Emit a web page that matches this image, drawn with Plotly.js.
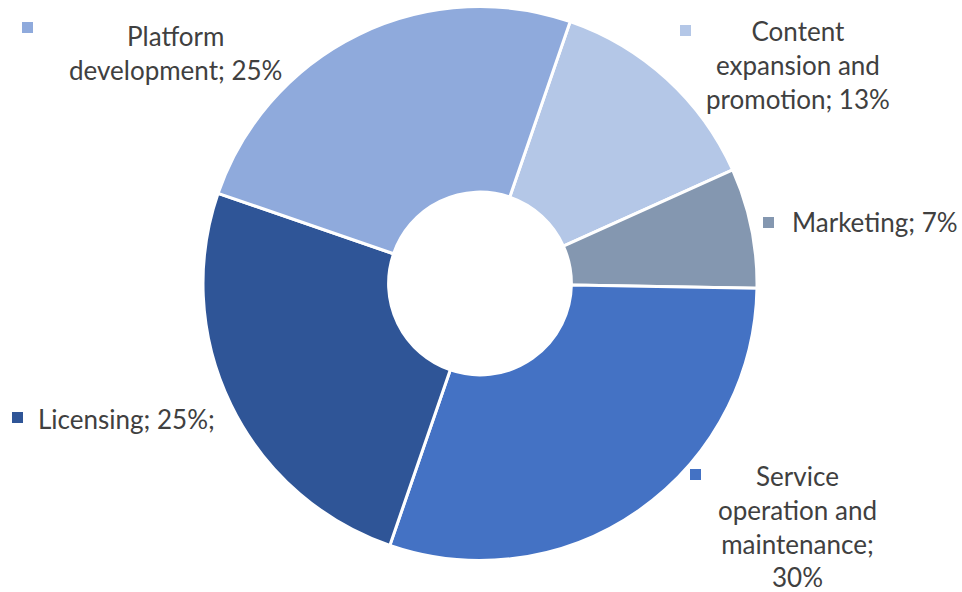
<!DOCTYPE html>
<html>
<head>
<meta charset="utf-8">
<script src="https://cdn.plot.ly/plotly-3.0.1.min.js"></script>
<style>html,body{margin:0;padding:0;background:#fff;}#chart{width:962px;height:592px;}</style>
</head>
<body>
<div id="chart"></div>
<script>
// Data (clockwise order starting at the top-right boundary)
const categories = ["Content expansion and promotion", "Marketing", "Service operation and maintenance", "Licensing", "Platform development"];
const values = [13, 7, 30, 25, 25];
const colors = ["#B4C7E7", "#8497B0", "#4472C4", "#2F5597", "#8FAADC"];
// Label texts as shown in the chart (with their line breaks)
const labelTexts = [
  "Content<br>expansion and<br>promotion; 13%",
  "Marketing; 7%",
  "Service<br>operation and<br>maintenance;<br>30%",
  "Licensing; 25%;",
  "Platform<br>development; 25%"
];

const W = 962, H = 592;
const px = x => x / W;
const py = y => 1 - y / H;

// label placement (pixel positions): [textX, textY, xanchor, align, keyX, keyY]
const labelPos = [
  [798, 13, "center", "center", 680, 25],
  [790, 222, "left", "left", 763, 217],
  [797, 458, "center", "center", 690, 469],
  [36, 419, "left", "left", 12, 412],
  [175, 18, "center", "center", 22, 22]
];

const cx = 480, cy = 283.5, R = 277;
const trace = {
  type: "pie",
  labels: categories,
  values: values,
  sort: false,
  direction: "clockwise",
  rotation: 19,
  hole: 0.33,
  textinfo: "none",
  hoverinfo: "label+percent",
  marker: { colors: colors, line: { color: "#FFFFFF", width: 3 } },
  domain: { x: [px(cx - R), px(cx + R)], y: [py(cy + R), py(cy - R)] },
  showlegend: false
};

const annotations = [];
const shapes = [];
const font = { family: "Lato, 'Open Sans', sans-serif", size: 26, color: "#404040" };
labelTexts.forEach((t, i) => {
  const p = labelPos[i];
  const multi = t.indexOf("<br>") >= 0;
  annotations.push({
    xref: "paper", yref: "paper",
    x: px(p[0]), y: py(p[1]),
    xanchor: p[2], yanchor: multi ? "top" : "middle",
    align: p[3], showarrow: false,
    text: t, font: font
  });
  shapes.push({
    type: "rect", xref: "paper", yref: "paper",
    x0: px(p[4]), x1: px(p[4] + 11), y0: py(p[5] + 11), y1: py(p[5]),
    fillcolor: colors[i], line: { width: 0 }
  });
});

const layout = {
  width: W, height: H,
  margin: { l: 0, r: 0, t: 0, b: 0 },
  paper_bgcolor: "#FFFFFF",
  plot_bgcolor: "#FFFFFF",
  annotations: annotations,
  shapes: shapes
};

Plotly.newPlot("chart", [trace], layout, { displayModeBar: false, staticPlot: true });
</script>
</body>
</html>
